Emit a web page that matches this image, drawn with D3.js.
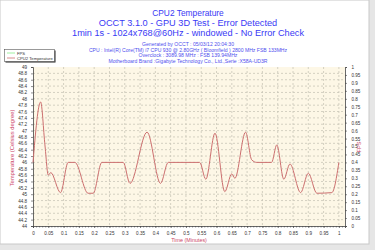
<!DOCTYPE html>
<html>
<head>
<meta charset="utf-8">
<script src="https://cdn.jsdelivr.net/npm/d3@7"></script>
<style>
  body { margin: 0; background: #e6e6e6; }
  svg { display: block; font-family: "Liberation Sans", Arial, sans-serif; }
</style>
</head>
<body>
<div id="chart"></div>
<script>
// time in minutes, CPU2 temperature in degrees
var timeMin = [0, 0.025, 0.039, 0.05, 0.058, 0.09, 0.115, 0.137, 0.18, 0.197, 0.225, 0.295, 0.317,
    0.373, 0.417, 0.442, 0.545, 0.565, 0.595, 0.627, 0.65, 0.66, 0.695, 0.715, 0.732, 0.78, 0.797,
    0.82, 0.84, 0.875, 0.9, 0.928, 0.977, 1.0];
var cpuTemp = [46.0, 47.9, 46.55, 45.6, 45.68, 45.05, 46.0, 46.0, 45.03, 45.03, 46.0, 46.0, 45.34,
    46.95, 45.34, 46.0, 46.0, 45.47, 46.92, 45.08, 45.64, 45.5, 46.95, 46.08, 46.0, 46.0, 46.55,
    45.47, 45.95, 45.05, 45.66, 45.03, 45.05, 46.0];

var titleLines = ["CPU2 Temperature",
    "OCCT 3.1.0 - GPU 3D Test - Error Detected",
    "1min 1s - 1024x768@60Hz - windowed - No Error Check"];
var infoLines = ["Generated by OCCT : 05/03/12 20:04:30",
    "CPU : Intel(R) Core(TM) i7 CPU 930 @ 2.80GHz ( Bloomfield ) 2800 MHz FSB 133MHz",
    "Overclock : 3089.98 MHz : FSB 139.94MHz",
    "Motherboard Brand :Gigabyte Technology Co., Ltd.,Serie :X58A-UD3R"];
var legendNames = ["FPS", "CPU2 Temperature"];
var legendColors = ["#88ee88", "#cc6f6f"];

var w = 375;
var h = 250;
var plotL = 33, plotR = 345, plotT = 67, plotB = 226;

var svg = d3.select("#chart")
    .append("svg")
    .attr("width", w)
    .attr("height", h);

// window-like white area
svg.append("rect")
    .attr("x", 0).attr("y", 0)
    .attr("width", 369).attr("height", 244)
    .attr("fill", "white")
    .attr("stroke", "#c8c8c8");

var x = d3.scaleLinear().domain([0, 1.02]).range([plotL, plotR]);
var y = d3.scaleLinear().domain([44, 49]).range([plotB, plotT]);
var yFps = d3.scaleLinear().domain([0, 1]).range([plotB, plotT]);

// plot background
svg.append("rect")
    .attr("x", plotL).attr("y", plotT)
    .attr("width", plotR - plotL).attr("height", plotB - plotT)
    .attr("fill", "#fdf7e6");

//grid lines
var xTicks = d3.range(0, 21).map(function (i) { return i * 0.05; });
var yTicks = d3.range(0, 26).map(function (i) { return 44 + i * 0.2; });
var fpsTicks = d3.range(0, 21).map(function (i) { return i * 0.05; });

svg.append("g")
    .selectAll("line")
    .data(xTicks.slice(1))
    .enter()
    .append("line")
    .attr("x1", function (d) { return x(d); })
    .attr("x2", function (d) { return x(d); })
    .attr("y1", plotT).attr("y2", plotB)
    .attr("stroke", "#c9c6b8")
    .attr("stroke-width", 0.8)
    .attr("stroke-dasharray", "2,2");

svg.append("g")
    .selectAll("line")
    .data(yTicks.slice(1, -1))
    .enter()
    .append("line")
    .attr("x1", plotL).attr("x2", plotR)
    .attr("y1", function (d) { return y(d); })
    .attr("y2", function (d) { return y(d); })
    .attr("stroke", "#c9c6b8")
    .attr("stroke-width", 0.8)
    .attr("stroke-dasharray", "2,2");

// axes
var fmt = function (d) { return d3.format("~g")(+d.toFixed(2)); };

var xAxis = d3.axisBottom(x).tickValues(xTicks).tickSize(2).tickFormat(fmt);
var xMinor = d3.axisBottom(x).tickValues(d3.range(0, 103).map(function (i) { return i * 0.01; }))
    .tickSize(1.5).tickFormat("");
var yAxis = d3.axisLeft(y).tickValues(yTicks).tickSize(2).tickFormat(fmt);
var fpsAxis = d3.axisRight(yFps).tickValues(fpsTicks).tickSize(2).tickFormat(fmt);

function styleAxis(g) {
    g.selectAll("path").attr("stroke", "#444").attr("stroke-width", 0.8);
    g.selectAll("line").attr("stroke", "#444").attr("stroke-width", 0.6);
    g.selectAll("text").attr("fill", "#333").attr("font-size", "4.6px");
}

svg.append("g").attr("transform", "translate(0," + plotB + ")").call(xMinor).call(styleAxis)
    .select(".domain").remove();
svg.append("g").attr("transform", "translate(0," + plotB + ")").call(xAxis).call(styleAxis)
    .selectAll("text").attr("dy", "0.9em");
svg.append("g").attr("transform", "translate(" + plotL + ",0)").call(yAxis).call(styleAxis)
    .selectAll("text").attr("dx", "-0.2em");
svg.append("g").attr("transform", "translate(" + plotR + ",0)").call(fpsAxis).call(styleAxis)
    .selectAll("text").attr("dx", "0.3em");

// temperature line
var pts = timeMin.map(function (t, i) { return [t, cpuTemp[i]]; });
var line = d3.line()
    .x(function (d) { return x(d[0]); })
    .y(function (d) { return y(d[1]); })
    .curve(d3.curveMonotoneX);

svg.append("path")
    .datum(pts)
    .attr("d", line)
    .attr("fill", "none")
    .attr("stroke", legendColors[1])
    .attr("stroke-width", 1);

// titles
var titleY = [16, 26, 36];
svg.selectAll(".title")
    .data(titleLines)
    .enter()
    .append("text")
    .attr("class", "title")
    .text(function (d) { return d; })
    .attr("x", 188)
    .attr("y", function (d, i) { return titleY[i]; })
    .attr("text-anchor", "middle")
    .attr("font-size", function (d, i) { return i == 0 ? "8.4px" : "9.2px"; })
    .attr("fill", "#3a3af5");

svg.selectAll(".info")
    .data(infoLines)
    .enter()
    .append("text")
    .attr("class", "info")
    .text(function (d) { return d; })
    .attr("x", 188)
    .attr("y", function (d, i) { return 46 + i * 5.6; })
    .attr("text-anchor", "middle")
    .attr("font-size", "5.1px")
    .attr("fill", "#5050ee");

// axis titles
svg.append("text")
    .text("Temperature (Celsius degree)")
    .attr("transform", "translate(14,148) rotate(-90)")
    .attr("text-anchor", "middle")
    .attr("font-size", "5.8px")
    .attr("fill", "#cc4466");

svg.append("text")
    .text("Time (Minutes)")
    .attr("x", 189).attr("y", 242)
    .attr("text-anchor", "middle")
    .attr("font-size", "5.4px")
    .attr("fill", "#cc4466");

svg.append("text")
    .text("FPS")
    .attr("transform", "translate(361,147) rotate(-90)")
    .attr("text-anchor", "middle")
    .attr("font-size", "5.6px")
    .attr("fill", "#cc4466");

// legend
var lg = svg.append("g");
lg.append("rect")
    .attr("x", 5.5).attr("y", 50.5).attr("width", 50).attr("height", 12)
    .attr("fill", "#222");
lg.append("rect")
    .attr("x", 4.5).attr("y", 49.5).attr("width", 50).attr("height", 12)
    .attr("fill", "white").attr("stroke", "#555").attr("stroke-width", 0.6);
lg.selectAll("line")
    .data(legendNames)
    .enter()
    .append("line")
    .attr("x1", 7).attr("x2", 15)
    .attr("y1", function (d, i) { return 53 + i * 5; })
    .attr("y2", function (d, i) { return 53 + i * 5; })
    .attr("stroke", function (d, i) { return legendColors[i]; })
    .attr("stroke-width", 0.8);
lg.selectAll("text")
    .data(legendNames)
    .enter()
    .append("text")
    .text(function (d) { return d; })
    .attr("x", 17)
    .attr("y", function (d, i) { return 54.6 + i * 5; })
    .attr("font-size", "4.2px")
    .attr("fill", "#333");
</script>
</body>
</html>
